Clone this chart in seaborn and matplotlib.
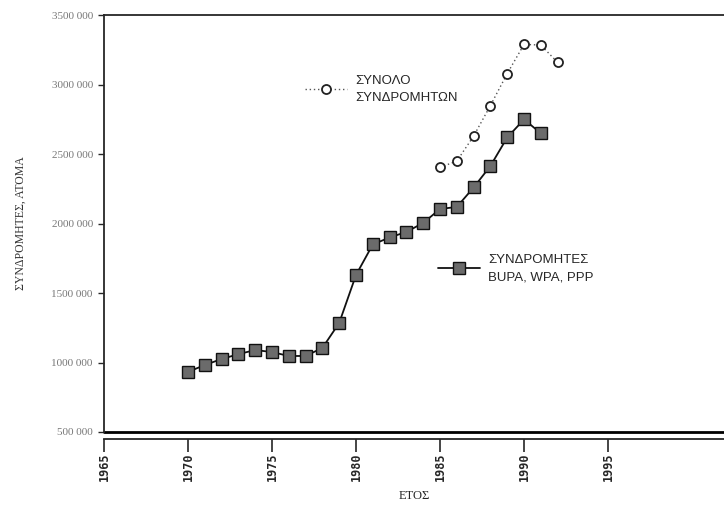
import pandas as pd
import matplotlib.pyplot as plt
import matplotlib.ticker as mticker
import seaborn as sns

years_bupa = list(range(1970, 1992))
subs_bupa = [932000, 982000, 1025000, 1060000, 1090000, 1075000, 1047000, 1047000,
             1105000, 1285000, 1630000, 1850000, 1900000, 1940000, 2005000, 2105000,
             2120000, 2260000, 2415000, 2620000, 2750000, 2650000]

years_total = list(range(1985, 1993))
subs_total = [2405000, 2450000, 2630000, 2850000, 3080000, 3290000, 3285000, 3160000]

y_ticks = [500000, 1000000, 1500000, 2000000, 2500000, 3000000, 3500000]
x_ticks = [1965, 1970, 1975, 1980, 1985, 1990, 1995]

df_bupa = pd.DataFrame({"year": years_bupa, "subs": subs_bupa})
df_total = pd.DataFrame({"year": years_total, "subs": subs_total})

sns.set_style("ticks")
plt.rcParams["font.family"] = ["Liberation Sans", "DejaVu Sans"]

fig = plt.figure(figsize=(7.24, 5.07), dpi=100)
ax = fig.add_axes([0.1436, 0.148, 0.8564, 0.822])

sns.lineplot(data=df_total, x="year", y="subs", ax=ax, color="#555555",
             linestyle=(0, (1, 2)), linewidth=1.0, marker="o", markersize=6.5,
             markerfacecolor="white", markeredgecolor="#222222", markeredgewidth=1.3,
             label="ΣΥΝΟΛΟ\nΣΥΝΔΡΟΜΗΤΩΝ")
sns.lineplot(data=df_bupa, x="year", y="subs", ax=ax, color="#111111",
             linewidth=1.3, marker="s", markersize=8,
             markerfacecolor="#6b6b6b", markeredgecolor="#111111", markeredgewidth=1.0,
             label="ΣΥΝΔΡΟΜΗΤΕΣ\nBUPA, WPA, PPP")

ax.set_xlim(1965, 2001.9)
ax.set_ylim(500000, 3500000)
ax.set_xticks(x_ticks)
ax.set_yticks(y_ticks)
ax.yaxis.set_major_formatter(mticker.FuncFormatter(
    lambda v, p: f"{int(v // 1000)} {int(v % 1000):03d}"))

ax.spines["right"].set_visible(False)
ax.spines["top"].set_linewidth(1.3)
ax.spines["left"].set_linewidth(1.3)
ax.spines["bottom"].set_linewidth(1.3)
ax.spines["bottom"].set_position(("outward", 5))
ax.axhline(500000, color="black", linewidth=2.0, clip_on=False)

ax.tick_params(axis="y", direction="out", length=4, width=1, labelsize=8,
               labelcolor="#777777", pad=4)
ax.tick_params(axis="x", direction="out", length=9, width=1.2, labelsize=8.5,
               pad=1)
for lab in ax.get_yticklabels():
    lab.set_fontfamily("Liberation Serif")
for lab in ax.get_xticklabels():
    lab.set_rotation(90)
    lab.set_fontweight("bold")
    lab.set_fontfamily("DejaVu Sans Mono")

ax.set_xlabel("ΕΤΟΣ", fontfamily="Liberation Serif", fontsize=9, labelpad=6)
ax.set_ylabel("ΣΥΝΔΡΟΜΗΤΕΣ, ΑΤΟΜΑ", fontfamily="Liberation Serif", fontsize=8.5,
              labelpad=18, color="#333333")

handles, labels = ax.get_legend_handles_labels()
leg1 = ax.legend([handles[0]], [labels[0]], loc="center left",
                 bbox_to_anchor=(0.305, 0.822), frameon=False, fontsize=9.5,
                 handlelength=3.2, handletextpad=0.6)
ax.add_artist(leg1)
leg2 = ax.legend([handles[1]], [labels[1]], loc="center left",
                 bbox_to_anchor=(0.52, 0.392), frameon=False, fontsize=9.5,
                 handlelength=3.2, handletextpad=0.6)
for leg in (leg1, leg2):
    for t in leg.get_texts():
        t.set_linespacing(1.6)

fig.savefig("out.png", dpi=100)
